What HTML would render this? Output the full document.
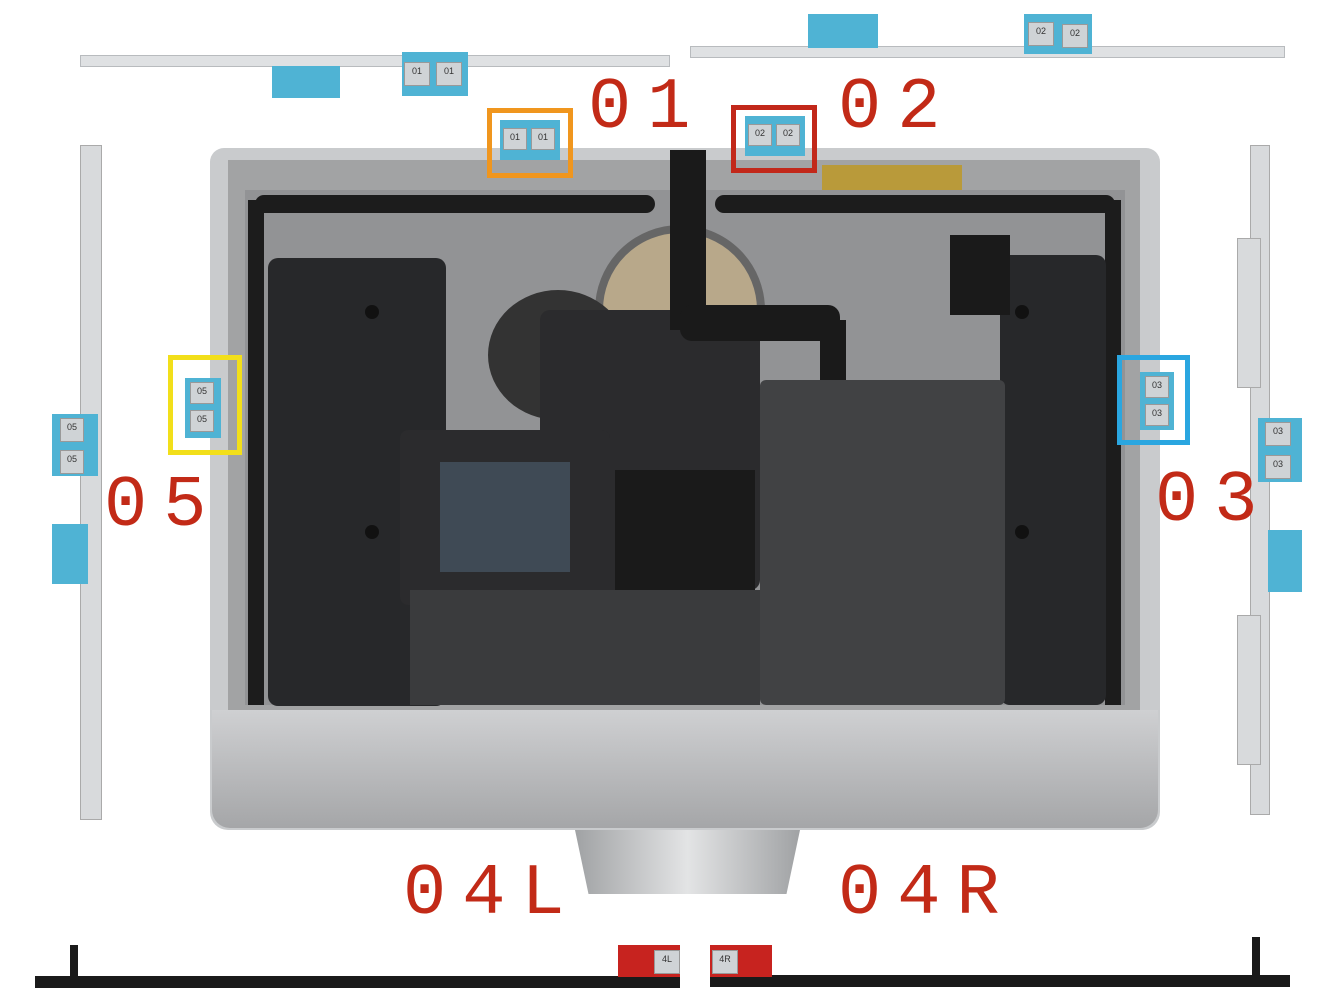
<!DOCTYPE html>
<html><head><meta charset="utf-8"><style>
body{margin:0;width:1338px;height:1004px;background:#fff;position:relative;overflow:hidden;font-family:"Liberation Mono",monospace}
div{position:absolute;box-sizing:border-box}
.lbl{color:#c22a17;font-size:72px;letter-spacing:16px;font-weight:normal;line-height:1}
.tab{background:#4fb3d4}
.tag{background:#cfd3d6;border:1px solid #999;font-size:9px;color:#333;text-align:center;line-height:16px;font-family:"Liberation Sans",sans-serif}
.dot{width:14px;height:14px;border-radius:50%;background:#111}
</style></head><body>
<div style="left:80px;top:55px;width:590px;height:12px;background:#dfe1e3;border:1px solid #b8bbbe"></div>
<div class="tab" style="left:272px;top:66px;width:68px;height:32px"></div>
<div class="tab" style="left:402px;top:52px;width:66px;height:44px"></div>
<div class="tag" style="left:404px;top:62px;width:26px;height:24px">01</div>
<div class="tag" style="left:436px;top:62px;width:26px;height:24px">01</div>
<div style="left:690px;top:46px;width:595px;height:12px;background:#dfe1e3;border:1px solid #b8bbbe"></div>
<div class="tab" style="left:808px;top:14px;width:70px;height:34px"></div>
<div class="tab" style="left:1024px;top:14px;width:68px;height:40px"></div>
<div class="tag" style="left:1028px;top:22px;width:26px;height:24px">02</div>
<div class="tag" style="left:1062px;top:24px;width:26px;height:24px">02</div>
<div style="left:80px;top:145px;width:22px;height:675px;background:#d8dadc;border:1px solid #aaa"></div>
<div class="tab" style="left:52px;top:414px;width:46px;height:62px"></div>
<div class="tag" style="left:60px;top:418px;width:24px;height:24px">05</div>
<div class="tag" style="left:60px;top:450px;width:24px;height:24px">05</div>
<div class="tab" style="left:52px;top:524px;width:36px;height:60px"></div>
<div style="left:1250px;top:145px;width:20px;height:670px;background:#d8dadc;border:1px solid #aaa"></div>
<div style="left:1237px;top:238px;width:24px;height:150px;background:#d8dadc;border:1px solid #aaa"></div>
<div style="left:1237px;top:615px;width:24px;height:150px;background:#d8dadc;border:1px solid #aaa"></div>
<div class="tab" style="left:1258px;top:418px;width:44px;height:64px"></div>
<div class="tag" style="left:1265px;top:422px;width:26px;height:24px">03</div>
<div class="tag" style="left:1265px;top:455px;width:26px;height:24px">03</div>
<div class="tab" style="left:1268px;top:530px;width:34px;height:62px"></div>
<div style="left:210px;top:148px;width:950px;height:682px;background:#c9cbcd;border-radius:14px 14px 18px 18px"></div>
<div style="left:228px;top:160px;width:912px;height:550px;background:#a2a3a4"></div>
<div style="left:245px;top:190px;width:880px;height:515px;background:#929395"></div>
<div style="left:255px;top:195px;width:400px;height:18px;background:#1c1c1c;border-radius:10px"></div>
<div style="left:715px;top:195px;width:400px;height:18px;background:#1c1c1c;border-radius:10px"></div>
<div style="left:248px;top:200px;width:16px;height:505px;background:#1c1c1c"></div>
<div style="left:1105px;top:200px;width:16px;height:505px;background:#1c1c1c"></div>
<div style="left:268px;top:258px;width:178px;height:448px;background:#27282a;border-radius:10px"></div>
<div style="left:1000px;top:255px;width:106px;height:450px;background:#27282a;border-radius:10px"></div>
<div class="dot" style="left:365px;top:305px"></div><div class="dot" style="left:365px;top:525px"></div>
<div class="dot" style="left:1015px;top:305px"></div><div class="dot" style="left:1015px;top:525px"></div>
<div style="left:595px;top:225px;width:170px;height:170px;border-radius:50%;background:#b8a88a;border:8px solid #666"></div>
<div style="left:488px;top:290px;width:140px;height:130px;border-radius:50%;background:#333"></div>
<div style="left:540px;top:310px;width:220px;height:280px;background:#2b2b2d;border-radius:10px"></div>
<div style="left:615px;top:470px;width:140px;height:120px;background:#1a1a1a"></div>
<div style="left:670px;top:150px;width:36px;height:180px;background:#1a1a1a"></div>
<div style="left:680px;top:305px;width:160px;height:36px;background:#1a1a1a;border-radius:12px"></div>
<div style="left:820px;top:320px;width:26px;height:65px;background:#1a1a1a"></div>
<div style="left:950px;top:235px;width:60px;height:80px;background:#1a1a1a"></div>
<div style="left:822px;top:165px;width:140px;height:25px;background:#b99a3a"></div>
<div style="left:400px;top:430px;width:210px;height:175px;background:#2b2b2d;border-radius:8px"></div>
<div style="left:440px;top:462px;width:130px;height:110px;background:#3f4a55"></div>
<div style="left:410px;top:590px;width:350px;height:115px;background:#3a3b3d"></div>
<div style="left:760px;top:380px;width:245px;height:325px;background:#414244;border-radius:6px"></div>
<div style="left:212px;top:710px;width:946px;height:118px;background:linear-gradient(#cfd0d2,#a5a6a8);border-radius:0 0 18px 18px"></div>
<div style="left:575px;top:830px;width:225px;height:64px;background:linear-gradient(90deg,#a0a2a4,#e3e4e5,#a0a2a4);clip-path:polygon(0 0,100% 0,94% 100%,6% 100%)"></div>
<div class="tab" style="left:500px;top:120px;width:60px;height:40px"></div>
<div class="tag" style="left:503px;top:128px;width:24px;height:22px">01</div>
<div class="tag" style="left:531px;top:128px;width:24px;height:22px">01</div>
<div class="tab" style="left:745px;top:116px;width:60px;height:40px"></div>
<div class="tag" style="left:748px;top:124px;width:24px;height:22px">02</div>
<div class="tag" style="left:776px;top:124px;width:24px;height:22px">02</div>
<div class="tab" style="left:185px;top:378px;width:36px;height:60px"></div>
<div class="tag" style="left:190px;top:382px;width:24px;height:22px">05</div>
<div class="tag" style="left:190px;top:410px;width:24px;height:22px">05</div>
<div class="tab" style="left:1140px;top:372px;width:34px;height:58px"></div>
<div class="tag" style="left:1145px;top:376px;width:24px;height:22px">03</div>
<div class="tag" style="left:1145px;top:404px;width:24px;height:22px">03</div>
<div style="left:487px;top:108px;width:86px;height:70px;border:5px solid #f0961e"></div>
<div style="left:731px;top:105px;width:86px;height:68px;border:5px solid #c2281a"></div>
<div style="left:168px;top:355px;width:74px;height:100px;border:5px solid #f2df1a"></div>
<div style="left:1117px;top:355px;width:73px;height:90px;border:5px solid #2aa6e0"></div>
<div class="lbl" style="left:588px;top:72px">01</div>
<div class="lbl" style="left:838px;top:72px">02</div>
<div class="lbl" style="left:104px;top:470px">05</div>
<div class="lbl" style="left:1155px;top:465px">03</div>
<div class="lbl" style="left:403px;top:858px">04L</div>
<div class="lbl" style="left:838px;top:858px">04R</div>
<div style="left:35px;top:976px;width:645px;height:12px;background:#1a1a1a"></div>
<div style="left:70px;top:945px;width:8px;height:40px;background:#1a1a1a"></div>
<div style="left:618px;top:945px;width:62px;height:32px;background:#c7231f"></div>
<div class="tag" style="left:654px;top:950px;width:26px;height:24px">4L</div>
<div style="left:710px;top:975px;width:580px;height:12px;background:#1a1a1a"></div>
<div style="left:1252px;top:937px;width:8px;height:45px;background:#1a1a1a"></div>
<div style="left:710px;top:945px;width:62px;height:32px;background:#c7231f"></div>
<div class="tag" style="left:712px;top:950px;width:26px;height:24px">4R</div>
</body></html>
